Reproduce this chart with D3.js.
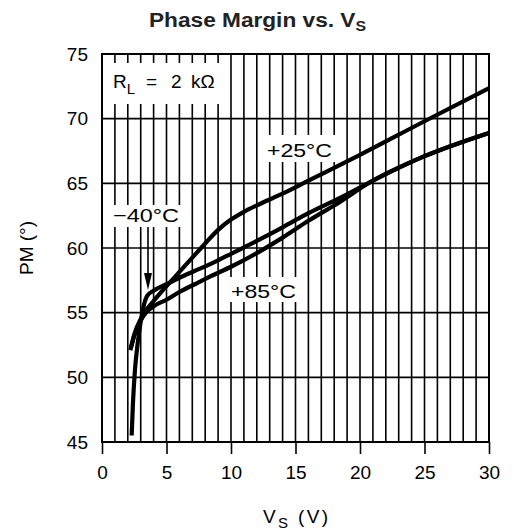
<!DOCTYPE html>
<html><head><meta charset="utf-8">
<script src="https://cdn.jsdelivr.net/npm/d3@7/dist/d3.min.js"></script>
<style>body{margin:0;background:#fff}svg{display:block}</style>
</head><body>
<svg id="c" width="514" height="531"></svg>
<script>
// ---- data ----
const xTicks = [0, 5, 10, 15, 20, 25, 30];
const yTicks = [45, 50, 55, 60, 65, 70, 75];
const seriesNames = ["+25°C", "-40°C", "+85°C"];
const vs25 = [2.2, 2.5, 3.0, 3.5, 4.0, 4.5, 5.0, 5.5, 6.0, 7.0, 8.0, 9.0, 10, 11, 12, 14, 16, 20, 25, 30];
const pm25 = [52.1, 53.3, 54.5, 55.3, 55.9, 56.5, 57.05, 57.6, 58.15, 59.25, 60.35, 61.4, 62.2, 62.8, 63.3, 64.2, 65.2, 67.2, 69.8, 72.35];
const vsM40 = [2.3, 2.4, 2.55, 2.75, 3.0, 3.25, 3.5, 4.0, 5, 6, 7.6, 9, 10, 12, 14, 16, 18.5, 20.8, 25, 30];
const pmM40 = [45.5, 48, 50.5, 52.5, 54.3, 55.6, 56.3, 56.7, 57.2, 57.7, 58.4, 59.05, 59.55, 60.55, 61.6, 62.7, 63.9, 65.1, 67.1, 68.9];
const vs85 = [2.25, 2.5, 3.0, 3.5, 4, 5, 6, 7.6, 8.4, 10, 12, 14, 16, 18.5, 20.8, 25, 30];
const pm85 = [52.3, 53.2, 54.4, 55.1, 55.5, 56.0, 56.6, 57.4, 57.8, 58.55, 59.6, 60.8, 62.1, 63.6, 65.1, 67.1, 68.9];

const svg = d3.select("#c");
const x = d3.scaleLinear().domain([0, 30]).range([102, 489]);
const y = d3.scaleLinear().domain([45, 75]).range([442, 54]);
const FONT = "'Liberation Sans', Arial, sans-serif";

// title
const t = svg.append("text").attr("x", 149).attr("y", 27)
  .attr("font-family", FONT).attr("font-weight", "bold").attr("font-size", 20).attr("fill", "#222")
  .attr("textLength", 217).attr("lengthAdjust", "spacingAndGlyphs");
t.append("tspan").text("Phase Margin vs. V");
t.append("tspan").attr("font-size", 14).attr("dy", 4).text("S");

// grid
const g = svg.append("g");
g.selectAll("line.v").data(d3.range(1, 30)).join("line")
  .attr("x1", d => x(d)).attr("x2", d => x(d)).attr("y1", y(75)).attr("y2", y(45))
  .attr("stroke", "#000").attr("stroke-width", 1.6);
g.selectAll("line.h").data([50, 55, 60, 65, 70]).join("line")
  .attr("x1", x(0)).attr("x2", x(30)).attr("y1", d => y(d)).attr("y2", d => y(d))
  .attr("stroke", "#000").attr("stroke-width", 1.6);

// axes
const xa = svg.append("g").attr("transform", `translate(0,${y(45)})`)
  .call(d3.axisBottom(x).tickValues(xTicks).tickSize(12).tickPadding(12).tickFormat(d3.format("d")));
xa.select(".domain").remove();
xa.selectAll("line").attr("stroke", "#000").attr("stroke-width", 1.6);
xa.selectAll("text").attr("font-family", FONT).attr("font-size", 19).attr("fill", "#000");

const ya = svg.append("g").attr("transform", `translate(${x(0)},0)`)
  .call(d3.axisLeft(y).tickValues(yTicks).tickSize(0).tickPadding(14).tickFormat(d3.format("d")));
ya.select(".domain").remove();
ya.selectAll("text").attr("font-family", FONT).attr("font-size", 19).attr("fill", "#000");

// label boxes (white, interrupt grid)
function box(x0, y0, x1, y1) {
  svg.append("rect").attr("x", x0).attr("y", y0).attr("width", x1 - x0).attr("height", y1 - y0).attr("fill", "#fff");
}
box(x(0) + 1, 63, 224, 104);
box(260, 135, 340, 162);
box(x(0) + 1, 205, 185, 227);
box(224, 277, 302, 302);

// border
svg.append("rect").attr("x", x(0)).attr("y", y(75)).attr("width", x(30) - x(0)).attr("height", y(45) - y(75))
  .attr("fill", "none").attr("stroke", "#000").attr("stroke-width", 2);

// curves
const line = d3.line().x(d => x(d[0])).y(d => y(d[1])).curve(d3.curveMonotoneX);
const series = [d3.zip(vs25, pm25), d3.zip(vsM40, pmM40), d3.zip(vs85, pm85)];
svg.append("g").selectAll("path").data(series).join("path")
  .attr("d", line).attr("fill", "none").attr("stroke", "#000").attr("stroke-width", 4.2)
  .attr("stroke-linejoin", "round");

// annotations
function lab(txt, x0, yb, w) {
  svg.append("text").attr("x", x0).attr("y", yb).attr("font-family", FONT).attr("font-size", 19)
    .attr("textLength", w).attr("lengthAdjust", "spacingAndGlyphs").text(txt);
}
lab("+25°C", 267, 157, 65);
lab("−40°C", 113, 222, 66);
lab("+85°C", 231, 298, 65);

const rl = svg.append("text").attr("x", 113).attr("y", 88).attr("font-family", FONT).attr("font-size", 19);
rl.append("tspan").text("R");
rl.append("tspan").attr("font-size", 15).attr("dy", 6).text("L");
rl.append("tspan").attr("dy", -6).attr("x", 146).text("=");
rl.append("tspan").attr("x", 171).text("2");
rl.append("tspan").attr("x", 191).text("kΩ");

// arrow
svg.append("line").attr("x1", 148).attr("x2", 148).attr("y1", 227).attr("y2", 276)
  .attr("stroke", "#000").attr("stroke-width", 1.6);
svg.append("path").attr("d", "M144,273 L152,273 L148,290 Z").attr("fill", "#000");

// axis titles
const xt = svg.append("text").attr("x", 263).attr("y", 523)
  .attr("font-family", FONT).attr("font-size", 19).attr("textLength", 65).attr("lengthAdjust", "spacing");
xt.append("tspan").text("V");
xt.append("tspan").attr("font-size", 15).attr("dy", 5).text("S");
xt.append("tspan").attr("dy", -5).text(" (V)");

svg.append("text").attr("transform", "translate(33,248) rotate(-90)").attr("text-anchor", "middle")
  .attr("font-family", FONT).attr("font-size", 19).text("PM (°)");
</script>
</body></html>
